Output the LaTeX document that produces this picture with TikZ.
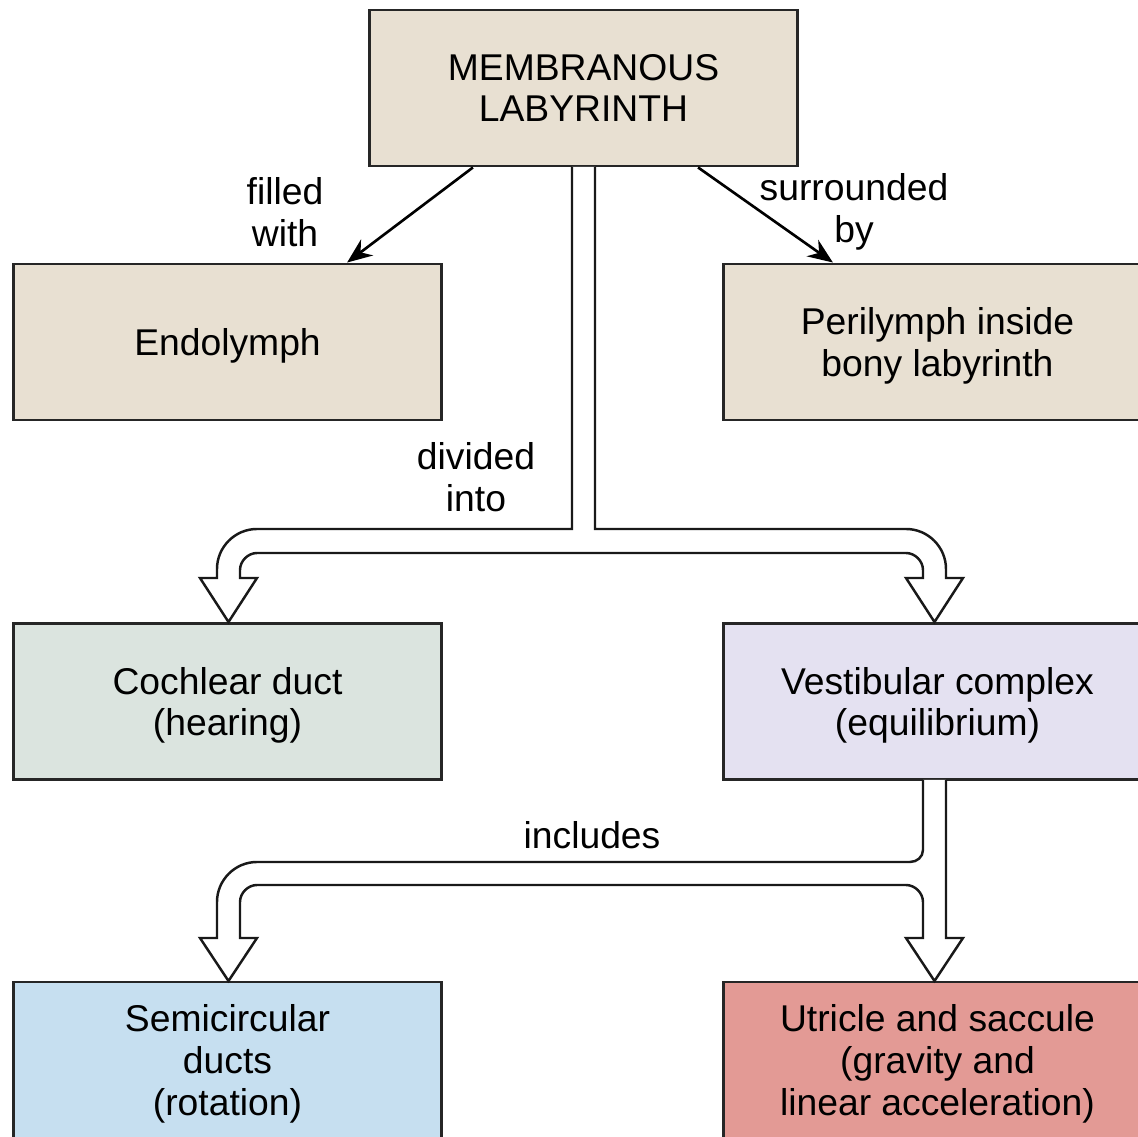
\documentclass[tikz,border=0pt]{standalone}
\usepackage{fontspec}
\setmainfont{Liberation Sans}
\usetikzlibrary{arrows.meta}
\definecolor{tanfill}{HTML}{E8E0D2}
\definecolor{cochfill}{HTML}{DBE4DF}
\definecolor{vestfill}{HTML}{E4E1F1}
\definecolor{semifill}{HTML}{C6DFF0}
\definecolor{utrfill}{HTML}{E39A95}
\tikzset{
  box/.style={draw=black!85, line width=0.8pt, minimum width=4.27cm, minimum height=1.56cm,
    align=center, inner sep=0pt, text depth=0pt, font=\fontsize{10.6}{11.9}\selectfont},
  lbl/.style={align=center, inner sep=0pt, font=\fontsize{10.6}{11.9}\selectfont},
  arr/.style={draw=black, line width=0.75pt, -{Stealth[length=0.25cm, width=0.2cm]}},
  hollow/.style={draw=black!90, line width=0.7pt, fill=white, line join=miter}
}
\begin{document}
\begin{tikzpicture}[x=0.01cm, y=-0.01cm]
\useasboundingbox (0,0) rectangle (1138,1137);
\fill[white] (0,0) rectangle (1138,1137);
\node[box, fill=tanfill] (memb) at (583.5,88) {MEMBRANOUS\\LABYRINTH};
\node[box, fill=tanfill] (endo) at (227.5,342) {Endolymph};
\node[box, fill=tanfill] (peri) at (937.5,342) {Perilymph inside\\bony labyrinth};
\node[box, fill=cochfill] (coch) at (227.5,701.5) {Cochlear duct\\(hearing)};
\node[box, fill=vestfill] (vest) at (937.5,701.5) {Vestibular complex\\(equilibrium)};
\node[box, fill=semifill] (semi) at (227.5,1060) {Semicircular\\ducts\\(rotation)};
\node[box, fill=utrfill] (utr) at (937.5,1060) {Utricle and saccule\\(gravity and\\linear acceleration)};

\draw[arr] ([xshift=-1.105cm]memb.south) -- ([xshift=1.195cm]endo.north);
\draw[arr] ([xshift=1.145cm]memb.south) -- ([xshift=-1.045cm]peri.north);
\node[lbl] (lfill) at (285,212) {filled\\with};
\node[lbl] (lsurr) at (854,212) {surrounded\\by};
\node[lbl] (ldiv) at (476,477) {divided\\into};
\node[lbl] (linc) at (592,835) {includes};

% split hollow arrow from membranous labyrinth
\path[hollow] (572,167) -- (572,529) -- (257,529) .. controls (235,529) and (217,547) .. (217,569)
  -- (217,578) -- (200,578) -- (228.5,622) -- (257,578) -- (240,578) -- (240,570)
  .. controls (240,561) and (248,553) .. (257,553) -- (906,553)
  .. controls (915,553) and (923,561) .. (923,570) -- (923,578) -- (906,578) -- (934.5,622)
  -- (963,578) -- (946,578) -- (946,569) .. controls (946,547) and (928,529) .. (906,529)
  -- (595,529) -- (595,167);
% split hollow arrow from vestibular complex
\path[hollow] (923,780) -- (923,850) .. controls (923,857) and (917,862) .. (910,862)
  -- (257,862) .. controls (235,862) and (217,880) .. (217,902) -- (217,938) -- (200,938)
  -- (228.5,981) -- (257,938) -- (240,938) -- (240,902) .. controls (240,893) and (248,885) .. (257,885)
  -- (906,885) .. controls (915,885) and (923,893) .. (923,902) -- (923,938) -- (906,938)
  -- (934.5,981) -- (963,938) -- (946,938) -- (946,780);
\end{tikzpicture}
\end{document}
